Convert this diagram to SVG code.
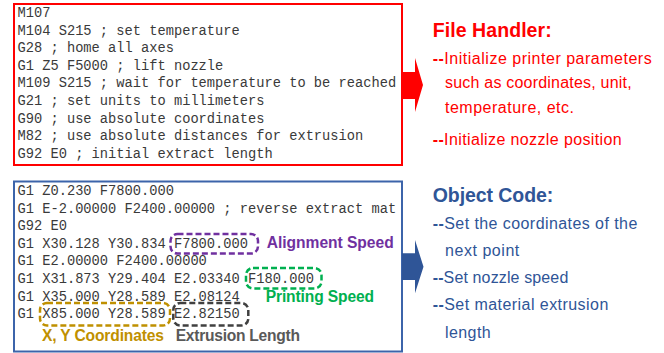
<svg xmlns="http://www.w3.org/2000/svg" width="664" height="353" viewBox="0 0 664 353">
<style>
.code{font-family:"Liberation Mono","DejaVu Sans Mono",monospace;font-size:13.73px;fill:#3a3a3a}
.lbl{font-family:"Liberation Sans",Arial,sans-serif;font-weight:bold;font-size:15.6px}
.head{font-family:"Liberation Sans",Arial,sans-serif;font-weight:bold;font-size:19.5px}
.body{font-family:"Liberation Sans",Arial,sans-serif;font-size:16px}
.red{fill:#ff0000}
.blue{fill:#2f5597}
.dash{fill:none;stroke-width:2.5;stroke-dasharray:6 3}
</style>
<rect width="664" height="353" fill="#ffffff"/>
<g id="file-handler-code">
<rect x="14" y="4" width="388" height="161" fill="#ffffff" stroke="#ff0000" stroke-width="2"/>
<text class="code" x="17.5" y="17">M107</text>
<text class="code" x="17.5" y="34.6">M104 S215 ; set temperature</text>
<text class="code" x="17.5" y="52.2">G28 ; home all axes</text>
<text class="code" x="17.5" y="69.8">G1 Z5 F5000 ; lift nozzle</text>
<text class="code" x="17.5" y="87.4">M109 S215 ; wait for temperature to be reached</text>
<text class="code" x="17.5" y="105">G21 ; set units to millimeters</text>
<text class="code" x="17.5" y="122.6">G90 ; use absolute coordinates</text>
<text class="code" x="17.5" y="140.2">M82 ; use absolute distances for extrusion</text>
<text class="code" x="17.5" y="157.8">G92 E0 ; initial extract length</text>
</g>
<g id="object-code-code">
<rect x="14" y="181.5" width="388" height="170" fill="#ffffff" stroke="#3c64aa" stroke-width="2"/>
<text class="code" x="17.5" y="195">G1 Z0.230 F7800.000</text>
<text class="code" x="17.5" y="212.6">G1 E-2.00000 F2400.00000 ; reverse extract mat</text>
<text class="code" x="17.5" y="230.2">G92 E0</text>
<text class="code" x="17.5" y="247.8">G1 X30.128 Y30.834 F7800.000</text>
<text class="code" x="17.5" y="265.4">G1 E2.00000 F2400.00000</text>
<text class="code" x="17.5" y="283">G1 X31.873 Y29.404 E2.03340 F180.000</text>
<text class="code" x="17.5" y="300.6">G1 X35.000 Y28.589 E2.08124</text>
<text class="code" x="17.5" y="318.2">G1 X85.000 Y28.589 E2.82150</text>
</g>
<g id="alignment-speed">
<rect class="dash" x="170.5" y="234" width="87.5" height="19.5" rx="7" stroke="#7030a0"/>
<text class="lbl" x="266.7" y="247.7" textLength="127" fill="#7030a0">Alignment Speed</text>
</g>
<g id="printing-speed">
<rect class="dash" x="246" y="268" width="75.5" height="20.5" rx="7" stroke="#00b050"/>
<text class="lbl" x="265.7" y="301.7" textLength="108.3" fill="#00b050">Printing Speed</text>
</g>
<g id="xy-coordinates">
<rect class="dash" x="40" y="303" width="130" height="22.5" rx="7" stroke="#bf9000"/>
<text class="lbl" x="42" y="340.7" textLength="122" fill="#bf9000">X, Y Coordinates</text>
</g>
<g id="extrusion-length">
<rect class="dash" x="173.3" y="303" width="75" height="22.5" rx="7" stroke="#404040"/>
<text class="lbl" x="175.7" y="340.7" textLength="124.3" fill="#595959">Extrusion Length</text>
</g>
<g id="connectors">
<polygon points="402,72 415,72 415,58 423,85 415,112 415,99 402,99" fill="#ff0000"/>
<polygon points="402,253.3 415,253.3 415,240 423.5,266.7 415,293.3 415,280 402,280" fill="#2f5597"/>
</g>
<g id="file-handler-desc">
<text class="head red" x="432.7" y="37.3" textLength="119">File Handler:</text>
<text class="body red" x="432.7" y="64.3" textLength="219"><tspan font-weight="bold">--</tspan>Initialize printer parameters</text>
<text class="body red" x="445" y="88.3" textLength="186.7">such as coordinates, unit,</text>
<text class="body red" x="445" y="113.3" textLength="129">temperature, etc.</text>
<text class="body red" x="432.7" y="145" textLength="189"><tspan font-weight="bold">--</tspan>Initialize nozzle position</text>
</g>
<g id="object-code-desc">
<text class="head blue" x="432.7" y="202.3" textLength="120.6">Object Code:</text>
<text class="body blue" x="432.7" y="229.3" textLength="204.6"><tspan font-weight="bold">--</tspan>Set the coordinates of the</text>
<text class="body blue" x="445" y="256" textLength="74.3">next point</text>
<text class="body blue" x="432.7" y="283.3" textLength="135.6"><tspan font-weight="bold">--</tspan>Set nozzle speed</text>
<text class="body blue" x="432.7" y="310" textLength="175.6"><tspan font-weight="bold">--</tspan>Set material extrusion</text>
<text class="body blue" x="445" y="338.3" textLength="45.7">length</text>
</g>
</svg>
